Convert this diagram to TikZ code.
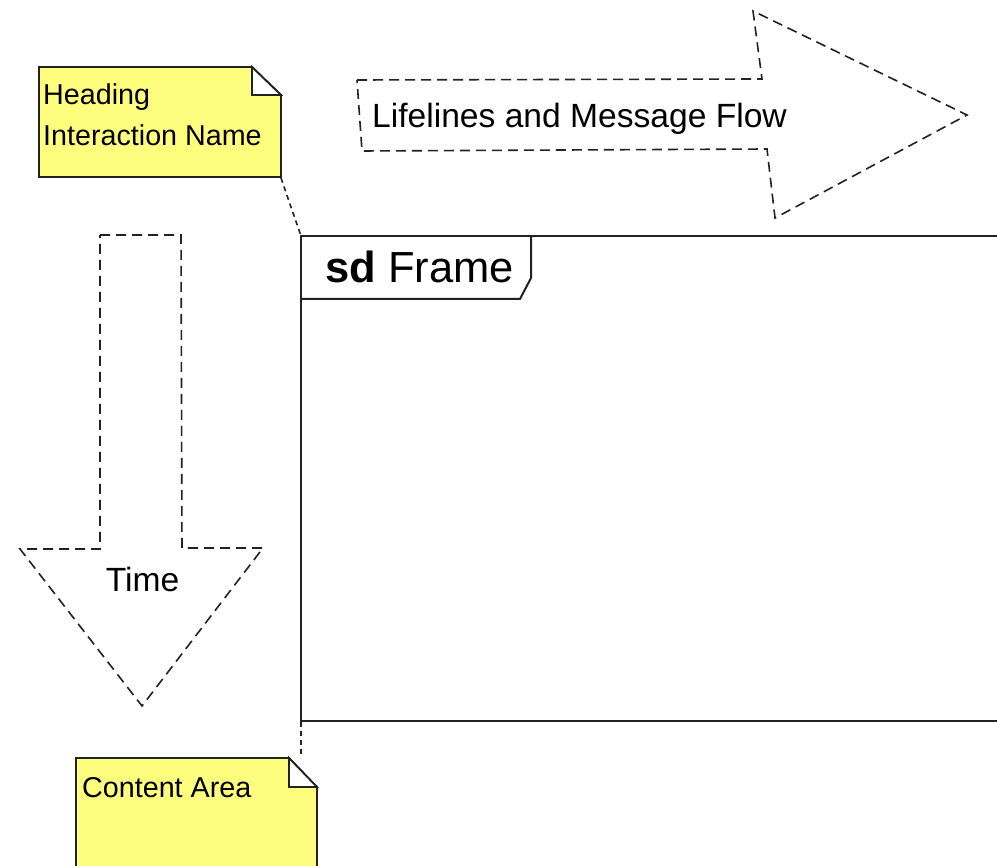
\documentclass[tikz,border=0pt]{standalone}
\usepackage{fontspec}
\setmainfont{Liberation Sans}
\definecolor{noteyellow}{HTML}{FEFE7E}
\definecolor{inkgray}{HTML}{222222}
\tikzset{
  notebox/.style={draw=inkgray, line width=1.8pt, fill=noteyellow, line join=miter},
  notefold/.style={draw=inkgray, line width=1.8pt, fill=white, line join=miter},
  flowarrow/.style={draw=inkgray, line width=1.6pt, dash pattern=on 10pt off 6pt, line join=miter},
  noteline/.style={draw=inkgray, line width=1.6pt, dash pattern=on 5pt off 4pt},
  frameline/.style={draw=inkgray, line width=2pt},
  notetext/.style={font=\fontsize{28.7}{34}\selectfont, anchor=base west, inner sep=0pt},
  flowtext/.style={font=\fontsize{33.6}{40}\selectfont, anchor=base west, inner sep=0pt},
}
\begin{document}
\begin{tikzpicture}[x=1pt, y=-1pt]
  \clip (0,0) rectangle (997,866);
  \fill[white] (0,0) rectangle (997,866);

  % Lifelines arrow
  \draw[flowarrow] (357,80) -- (762,79) -- (753,11) -- (967,115) -- (775,218) -- (767,149) -- (362,151) -- cycle;
  \node[flowtext] (flow) at (372,128) {Lifelines and Message Flow};

  % Time arrow
  \draw[flowarrow] (100,235) -- (181,235) -- (182,548) -- (263,548) -- (142,706) -- (20,549) -- (100,549) -- cycle;
  \node[flowtext, anchor=base] (time) at (142.5,592) {Time};

  % Frame
  \draw[frameline] (1100,236) -- (301,236) -- (301,721) -- (1100,721);
  \draw[frameline, line join=miter] (531,236) -- (531,278) -- (520,299) -- (301,299);
  \node[anchor=base west, inner sep=0pt, font=\fontsize{43.5}{50}\selectfont] (frame) at (325,283) {\textbf{sd} Frame};
  \coordinate (frameTL) at (301,236);
  \coordinate (frameBL) at (301,722);

  % Heading note
  \draw[notebox] (39,67) -- (252,67) -- (281,95) -- (281,177) -- (39,177) -- cycle;
  \draw[notefold] (252,67) -- (252,95) -- (281,95) -- cycle;
  \node[notetext] (heading) at (43,105) {Heading};
  \node[notetext] (iname) at (43,146) {Interaction Name};
  \coordinate (headnote) at (281,178);
  \draw[noteline] (headnote) -- (frameTL);

  % Content note
  \draw[notebox] (76,758) -- (289,758) -- (317,787) -- (317,900) -- (76,900) -- cycle;
  \draw[notefold] (289,758) -- (289,787) -- (317,787) -- cycle;
  \node[notetext] (content) at (82,797) {Content Area};
  \coordinate (contnote) at (301,758);
  \draw[noteline] (frameBL) -- (contnote);
\end{tikzpicture}
\end{document}
